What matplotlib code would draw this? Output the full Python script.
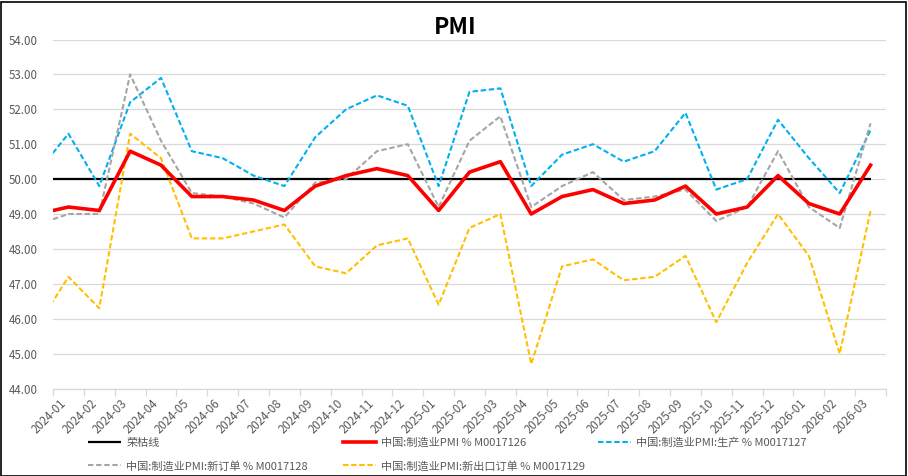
import matplotlib
matplotlib.use("Agg")
import matplotlib.pyplot as plt
import numpy as np
from matplotlib.patches import Rectangle
from matplotlib.ticker import FixedLocator, FormatStrFormatter

plt.rcParams['font.family'] = ['Noto Sans CJK SC', 'DejaVu Sans']

# Data: first value is 2023-12 (partly visible at the left edge)
months = ["2024-01", "2024-02", "2024-03", "2024-04", "2024-05", "2024-06", "2024-07",
          "2024-08", "2024-09", "2024-10", "2024-11", "2024-12", "2025-01", "2025-02",
          "2025-03", "2025-04", "2025-05", "2025-06", "2025-07", "2025-08", "2025-09",
          "2025-10", "2025-11", "2025-12", "2026-01", "2026-02", "2026-03"]
prev_month = "2023-12"

boom_bust = [50.0] * 28
pmi = [49.0, 49.2, 49.1, 50.8, 50.4, 49.5, 49.5, 49.4, 49.1, 49.8, 50.1, 50.3, 50.1, 49.1,
       50.2, 50.5, 49.0, 49.5, 49.7, 49.3, 49.4, 49.8, 49.0, 49.2, 50.1, 49.3, 49.0, 50.4]
production = [50.2, 51.3, 49.8, 52.2, 52.9, 50.8, 50.6, 50.1, 49.8, 51.2, 52.0, 52.4, 52.1, 49.8,
              52.5, 52.6, 49.8, 50.7, 51.0, 50.5, 50.8, 51.9, 49.7, 50.0, 51.7, 50.6, 49.6, 51.4]
new_orders = [48.7, 49.0, 49.0, 53.0, 51.1, 49.6, 49.5, 49.3, 48.9, 49.9, 50.0, 50.8, 51.0, 49.2,
              51.1, 51.8, 49.2, 49.8, 50.2, 49.4, 49.5, 49.7, 48.8, 49.2, 50.8, 49.2, 48.6, 51.6]
export_orders = [45.8, 47.2, 46.3, 51.3, 50.6, 48.3, 48.3, 48.5, 48.7, 47.5, 47.3, 48.1, 48.3, 46.4,
                 48.6, 49.0, 44.7, 47.5, 47.7, 47.1, 47.2, 47.8, 45.9, 47.6, 49.0, 47.8, 45.0, 49.1]

names = ["荣枯线", "中国:制造业PMI % M0017126", "中国:制造业PMI:生产 % M0017127",
         "中国:制造业PMI:新订单 % M0017128", "中国:制造业PMI:新出口订单 % M0017129"]

W, H = 908, 476
fig = plt.figure(figsize=(W / 100, H / 100), dpi=100)
ax = fig.add_axes([53 / W, (H - 388.5) / H, (886 - 53) / W, (388.5 - 39.5) / H])

x = np.arange(-1, len(months))
dash = (0, (2.6, 1.3))
l_black, = ax.plot(x, boom_bust, color='black', lw=1.6, zorder=3, solid_capstyle='butt')
l_blue, = ax.plot(x, production, color='#00B0F0', lw=1.5, ls=dash, zorder=4)
l_gray, = ax.plot(x, new_orders, color='#A5A5A5', lw=1.5, ls=dash, zorder=4)
l_yel, = ax.plot(x, export_orders, color='#FFC000', lw=1.5, ls=dash, zorder=4)
l_red, = ax.plot(x, pmi, color='#FF0000', lw=2.6, zorder=5)

ax.set_xlim(-0.5, len(months) - 0.5)
ax.set_ylim(44, 54)
ax.set_yticks(np.arange(44, 54.01, 1))
ax.yaxis.set_major_formatter(FormatStrFormatter('%.2f'))
ax.grid(axis='y', color='#D9D9D9', lw=0.9, zorder=0)
ax.tick_params(axis='y', length=0, pad=11, labelsize=8.3, labelcolor='#595959')

ax.set_xticks(np.arange(len(months)))
ax.set_xticklabels(months, rotation=45, ha='right', va='top', fontsize=8.3, color='#595959')
ax.tick_params(axis='x', which='major', length=0, pad=6)
ax.xaxis.set_minor_locator(FixedLocator(np.arange(-0.5, len(months), 1)))
ax.tick_params(axis='x', which='minor', length=5, color='#D9D9D9', width=0.9)

for s in ['left', 'right', 'top']:
    ax.spines[s].set_visible(False)
ax.spines['bottom'].set_color('#D9D9D9')
ax.spines['bottom'].set_linewidth(0.9)

fig.text(455 / W, (H - 28) / H, "PMI", ha='center', va='center', fontsize=16.5,
         fontweight='bold', color='black')

handles = [l_black, l_red, l_blue, l_gray, l_yel]
pos = [(88, 443), (343, 443), (598, 443), (88, 466), (343, 466)]
for h, n, (px, py) in zip(handles, names, pos):
    fig.legend([h], [n], loc='center left', bbox_to_anchor=(px / W, (H - py) / H),
               frameon=False, borderpad=0, borderaxespad=0, handlelength=3.0,
               handletextpad=0.45, fontsize=8, labelcolor='#595959')

fig.patches.append(Rectangle((0.5 / W, 0.5 / H), (W - 3) / W, (H - 2) / H,
                             transform=fig.transFigure, fill=False, edgecolor='black',
                             lw=1.2))

fig.savefig("out.png", dpi=100)
